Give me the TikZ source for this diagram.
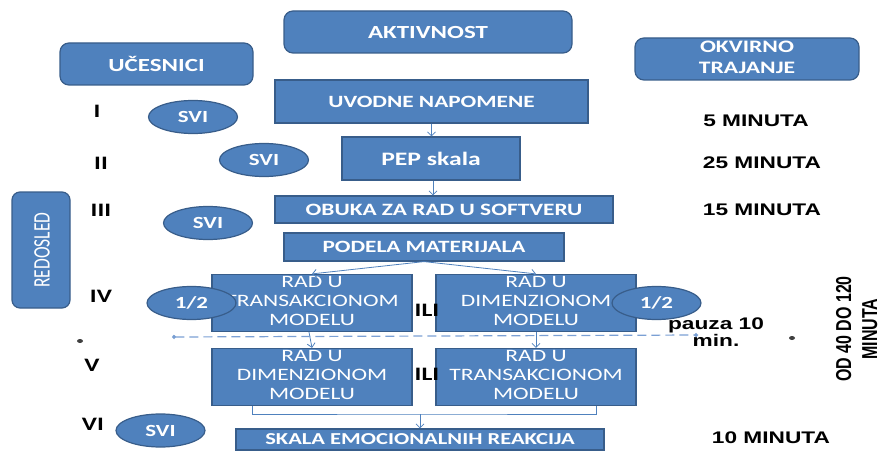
\documentclass[tikz,border=0pt]{standalone}
\usepackage{fontspec}
\usepackage{graphicx}
\setmainfont{Carlito}
\newfontfamily\arial{Liberation Sans}
\usetikzlibrary{arrows.meta,calc,shapes.geometric}
\definecolor{ofill}{HTML}{4F81BD}
\definecolor{oedge}{HTML}{385D8A}
\definecolor{dashc}{HTML}{7BA0D4}
\newcommand{\wx}[1]{\scalebox{1.35}[1]{#1}}
\newcommand{\wy}[1]{\scalebox{1}[1.35]{#1}}
\newcommand{\fs}[2]{\fontsize{#1}{#2}\selectfont}
\newcommand{\ml}[1]{\wx{\begin{tabular}{@{}c@{}}#1\end{tabular}}}
\begin{document}
\begin{tikzpicture}[x=1pt,y=-1pt,
  box/.style={draw=oedge, line width=1.2pt, fill=ofill, text=white, inner sep=0pt, font=\bfseries\fs{17.5}{20}},
  rbox/.style={box, rounded corners=9pt},
  mbox/.style={box, font=\fs{17.4}{19}, minimum width=200pt, minimum height=54pt},
  oval/.style={ellipse, draw=oedge, line width=1.2pt, fill=ofill, text=white, inner sep=0pt, font=\bfseries\fs{17}{20}, minimum width=89pt, minimum height=33pt},
  roman/.style={font=\bfseries\fs{19}{22}, inner sep=0pt},
  timel/.style={font=\arial\bfseries\fs{16.8}{20}, inner sep=0pt},
  ili/.style={font=\bfseries\fs{19}{22}, inner sep=0pt},
  conn/.style={draw=ofill, line width=0.8pt},
  arr/.style={conn, -{Straight Barb[length=4pt,width=8pt]}},
  dot/.style={ellipse, fill=black!75, inner sep=0pt, minimum width=6pt, minimum height=4pt}
]
\useasboundingbox (0,0) rectangle (887,452);

% header boxes
\node[rbox, font=\bfseries\fs{18.5}{21}, minimum width=288pt, minimum height=42pt] (akt) at (428,32) {\wx{AKTIVNOST}};
\node[rbox, font=\bfseries\fs{18.5}{21}, minimum width=193pt, minimum height=42pt] (uce) at (156.5,64) {\wx{UČESNICI}};
\node[rbox, font=\bfseries\fs{17.5}{21}, minimum width=224pt, minimum height=42pt] (okv) at (747,59) {\ml{OKVIRNO\\TRAJANJE}};
\node[rbox, minimum width=58pt, minimum height=116pt, rounded corners=8pt] (red) at (41,250) {};
\node[rotate=90, text=white, font=\fs{17.5}{20}, inner sep=0pt] (redt) at (42,250) {\wy{REDOSLED}};

% activity boxes
\node[box, minimum width=313pt, minimum height=43pt, font=\bfseries\fs{17.2}{20}] (uvo) at (431.5,101.5) {\wx{UVODNE NAPOMENE}};
\node[box, minimum width=178pt, minimum height=43pt, font=\bfseries\fs{19}{22}] (pep) at (431,158.5) {\wx{PEP skala}};
\node[box, minimum width=338pt, minimum height=27pt, font=\bfseries\fs{17.3}{20}] (obu) at (444,209.5) {\wx{OBUKA ZA RAD U SOFTVERU}};
\node[box, minimum width=280pt, minimum height=28pt, font=\bfseries\fs{17.2}{20}] (pod) at (424,247) {\wx{PODELA MATERIJALA}};
\node[mbox] (l4) at (312,303) {\ml{RAD U\\TRANSAKCIONOM\\MODELU}};
\node[mbox] (r4) at (536,303) {\ml{RAD U\\DIMENZIONOM\\MODELU}};
\node[mbox] (l5) at (312,377) {\ml{RAD U\\DIMENZIONOM\\MODELU}};
\node[mbox] (r5) at (536,377) {\ml{RAD U\\TRANSAKCIONOM\\MODELU}};
\node[box, minimum width=368pt, minimum height=21pt, font=\bfseries\fs{16.7}{19}] (ska) at (420,439.5) {\wx{SKALA EMOCIONALNIH REAKCIJA}};

% ovals
\node[oval] (s1) at (193,117) {\wx{SVI}};
\node[oval] (s2) at (264,160) {\wx{SVI}};
\node[oval] (s3) at (208,223) {\wx{SVI}};
\node[oval] (s6) at (160.5,430.5) {\wx{SVI}};

% roman numerals
\node[roman] (n1) at (97,111) {\wx{I}};
\node[roman] (n2) at (101,163) {\wx{II}};
\node[roman] (n3) at (101,210) {\wx{III}};
\node[roman] (n4) at (101,296) {\wx{IV}};
\node[roman] (n5) at (92,365) {\wx{V}};
\node[roman] (n6) at (93,424) {\wx{VI}};

% durations
\node[timel] (t1) at (756,121) {\wx{5 MINUTA}};
\node[timel] (t2) at (762,162.5) {\wx{25 MINUTA}};
\node[timel] (t3) at (762,210) {\wx{15 MINUTA}};
\node[timel] (t6) at (771,438) {\wx{10 MINUTA}};
\node[rotate=90, font=\arial\bfseries\fs{16}{19.3}, inner sep=0pt] (tot) at (859,329) {\wy{\begin{tabular}{@{}c@{}}OD 40 DO 120\\MINUTA\end{tabular}}};
\node[font=\arial\bfseries\fs{16.8}{16}, inner sep=0pt] (pau) at (716,335) {\ml{pauza 10\\min.}};

% ILI
\node[ili] (ili1) at (427,310) {\wx{ILI}};
\node[ili] (ili2) at (427,374) {\wx{ILI}};

% stray dots
\node[dot] (d1) at (80,341) {};
\node[dot] (d2) at (792,338) {};

% connectors
\draw[arr] (uvo.south) -- (uvo.south |- pep.north);
\draw[arr] ([xshift=2pt]pep.south) -- ([xshift=2pt]pep.south |- obu.north);
\draw[arr] (pod.south) -- (l4.north);
\draw[arr] (pod.south) -- (r4.north);
\draw[arr] ([xshift=-3pt]l4.south) -- (l5.north);
\draw[arr] (r4.south) -- (r5.north);
\coordinate (j) at (420,414);
\draw[conn] ([xshift=-60pt]l5.south) |- (j) -| ([xshift=60pt]r5.south);
\draw[arr] (j) -- (ska.north);

% pause line
\coordinate (pl) at (172,337);
\coordinate (pr) at (698,335);
\draw[draw=dashc, line width=1.2pt, dash pattern=on 9pt off 5pt, {Circle[length=4pt,width=4pt,fill=ofill]}-{Circle[length=4pt,width=4pt,fill=ofill]}] (pl) -- (pr);

% half-group ovals drawn over the boxes and the line
\node[oval] (h1) at (191.5,303) {\wx{1/2}};
\node[oval] (h2) at (656.5,303) {\wx{1/2}};
\end{tikzpicture}
\end{document}
